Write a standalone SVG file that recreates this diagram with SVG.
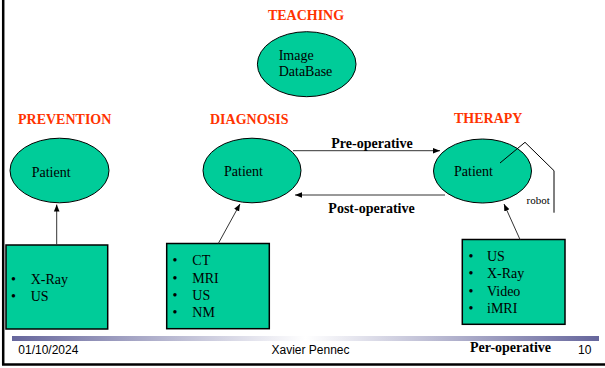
<svg xmlns="http://www.w3.org/2000/svg" width="605" height="368" viewBox="0 0 605 368">
<defs>
<style>
.head{font-family:"Liberation Serif",serif;font-weight:bold;font-size:14px;fill:#FF3300}
.t{font-family:"Liberation Serif",serif;font-size:14px;fill:#000}
.b{font-family:"Liberation Serif",serif;font-size:14px;font-weight:bold;fill:#000}
.f{font-family:"Liberation Sans",sans-serif;font-size:12px;fill:#000}
.node{fill:#00CC99;stroke:#000;stroke-width:1}
.box{fill:#00CC99;stroke:#000;stroke-width:1.5}
.ln{stroke:#333;stroke-width:1;fill:none}
</style>
<marker id="ah" viewBox="0 0 10 10" refX="10" refY="5" markerWidth="7" markerHeight="7" markerUnits="userSpaceOnUse" orient="auto">
<path d="M0,1 L10,5 L0,9 z" fill="#000"/>
</marker>
<linearGradient id="bar" x1="0" y1="0" x2="1" y2="0">
<stop offset="0" stop-color="#66669C"/>
<stop offset="0.5" stop-color="#FFFFFF"/>
<stop offset="1" stop-color="#66669C"/>
</linearGradient>
</defs>
<rect x="0" y="0" width="605" height="368" fill="#fff"/>
<line x1="3.2" y1="0" x2="3.2" y2="365" stroke="#000" stroke-width="2.5"/>
<line x1="2" y1="364.5" x2="605" y2="364.5" stroke="#000" stroke-width="2.5"/>
<rect x="12" y="336" width="587" height="5" fill="url(#bar)"/>

<text class="head" x="306" y="20" text-anchor="middle">TEACHING</text>
<text class="head" x="18" y="124">PREVENTION</text>
<text class="head" x="210" y="123.5">DIAGNOSIS</text>
<text class="head" x="454" y="123">THERAPY</text>

<g id="imagedb">
<ellipse class="node" cx="306.7" cy="64.2" rx="49.3" ry="32.5"/>
<text class="t" x="278.7" y="60">Image</text>
<text class="t" x="278.7" y="76">DataBase</text>
</g>

<g id="patient-prevention">
<ellipse class="node" cx="59.5" cy="170.5" rx="49.5" ry="32.3"/>
<text class="t" x="31.7" y="176.5">Patient</text>
</g>
<g id="patient-diagnosis">
<ellipse class="node" cx="252" cy="170.5" rx="49" ry="32.3"/>
<text class="t" x="224" y="176">Patient</text>
</g>
<g id="patient-therapy">
<ellipse class="node" cx="482.5" cy="171" rx="49" ry="32"/>
<text class="t" x="454" y="176">Patient</text>
</g>

<g id="box-prevention">
<rect class="box" x="6" y="245" width="101.7" height="84"/>
<text class="t" x="11" y="284">•</text><text class="t" x="30.7" y="284">X-Ray</text>
<text class="t" x="11" y="300.7">•</text><text class="t" x="30.7" y="300.7">US</text>
</g>
<g id="box-diagnosis">
<rect class="box" x="166.7" y="243.5" width="102.6" height="85.2"/>
<text class="t" x="172.5" y="265">•</text><text class="t" x="192.3" y="265">CT</text>
<text class="t" x="172.5" y="282.7">•</text><text class="t" x="192.3" y="282.7">MRI</text>
<text class="t" x="172.5" y="300">•</text><text class="t" x="192.3" y="300">US</text>
<text class="t" x="172.5" y="316.7">•</text><text class="t" x="192.3" y="316.7">NM</text>
</g>
<g id="box-therapy">
<rect class="box" x="462.3" y="239.5" width="102.7" height="84.8"/>
<text class="t" x="468.5" y="260.7">•</text><text class="t" x="487" y="260.7">US</text>
<text class="t" x="468.5" y="278.3">•</text><text class="t" x="487" y="278.3">X-Ray</text>
<text class="t" x="468.5" y="295.7">•</text><text class="t" x="487" y="295.7">Video</text>
<text class="t" x="468.5" y="312.7">•</text><text class="t" x="487" y="312.7">iMRI</text>
</g>

<g id="connectors">
<line class="ln" x1="56.7" y1="245" x2="56.7" y2="204.5" marker-end="url(#ah)"/>
<line class="ln" x1="218.3" y1="243.5" x2="240" y2="204" marker-end="url(#ah)"/>
<line class="ln" x1="520" y1="239.5" x2="504" y2="204" marker-end="url(#ah)"/>
<line class="ln" x1="293" y1="150.7" x2="440" y2="150.7" marker-end="url(#ah)"/>
<line class="ln" x1="445" y1="195" x2="295" y2="195" marker-end="url(#ah)"/>
<polyline points="500,163 525,142.3 554,170.7 554,212.7" fill="none" stroke="#000" stroke-width="1"/>
</g>

<text class="b" x="372" y="148.3" text-anchor="middle">Pre-operative</text>
<text class="b" x="371.5" y="212.7" text-anchor="middle">Post-operative</text>
<text class="t" x="526.5" y="204" style="font-size:11px">robot</text>
<text class="b" x="510.5" y="351.7" text-anchor="middle">Per-operative</text>

<text class="f" x="18.3" y="354">01/10/2024</text>
<text class="f" x="310.5" y="354" text-anchor="middle">Xavier Pennec</text>
<text class="f" x="578" y="354">10</text>
</svg>
